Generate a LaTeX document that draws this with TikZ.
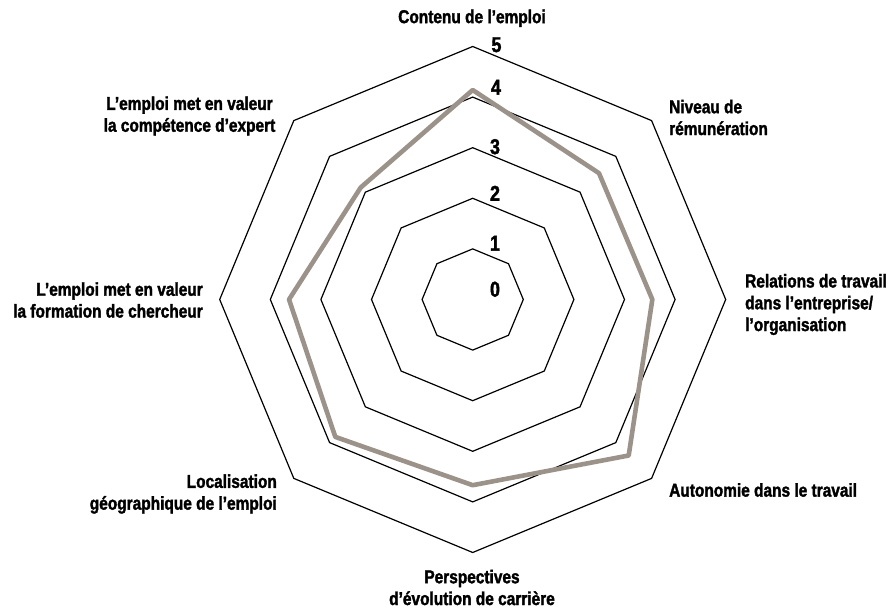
\documentclass[tikz,border=0pt]{standalone}
\usepackage{fontspec}
\usetikzlibrary{calc}
\newfontfamily\labfont{Liberation Sans Bold}[FakeStretch=0.83,FakeBold=1.8]
\begin{document}
\begin{tikzpicture}[x=1pt,y=1pt,
  grid/.style={draw=black,line width=1.2pt,line join=miter},
  series/.style={draw=datagrey,line width=4.6pt,line join=round},
  lab/.style={font=\labfont\fontsize{18.6}{21.8}\selectfont,inner sep=0pt},
  num/.style={font=\labfont\fontsize{21.5}{24}\selectfont,inner sep=0pt}]
\definecolor{datagrey}{RGB}{155,146,138}
\useasboundingbox (0,0) rectangle (892,610);
\coordinate (C) at (472.7,310.5);
\def\stp{50.6}
% grid octagons
\foreach \k in {1,...,5}{
  \draw[grid] ($(C)+(90:\k*\stp)$) -- ($(C)+(45:\k*\stp)$) -- ($(C)+(0:\k*\stp)$) -- ($(C)+(-45:\k*\stp)$) -- ($(C)+(-90:\k*\stp)$) -- ($(C)+(-135:\k*\stp)$) -- ($(C)+(180:\k*\stp)$) -- ($(C)+(135:\k*\stp)$) -- cycle;
}
% data
\draw[series] ($(C)+(90:4.14*\stp)$) -- ($(C)+(45:3.53*\stp)$) -- ($(C)+(0:3.55*\stp)$) -- ($(C)+(-45:4.36*\stp)$) -- ($(C)+(-90:3.67*\stp)$) -- ($(C)+(-135:3.84*\stp)$) -- ($(C)+(180:3.63*\stp)$) -- ($(C)+(135:3.13*\stp)$) -- cycle;
% scale numbers
\node[num] (n5) at (496.5,565.2) {5};
\node[num] (n4) at (496,522.7) {4};
\node[num] (n3) at (495,463.3) {3};
\node[num] (n2) at (495,416.7) {2};
\node[num] (n1) at (495,366.7) {1};
\node[num] (n0) at (495,320.7) {0};
% axis labels
\node[lab] (a1) at (472,591.7) {Contenu de l’emploi};
\node[lab,anchor=west,align=left] (a2) at (669,492.5) {Niveau de\\rémunération};
\node[lab,anchor=west,align=left] (a3) at (745,305.5) {Relations de travail\\dans l’entreprise/\\l’organisation};
\node[lab,anchor=west] (a4) at (669,120) {Autonomie dans le travail};
\node[lab,align=center] (a5) at (472,22.5) {Perspectives\\d’évolution de carrière};
\node[lab,anchor=east,align=right] (a6) at (277,116) {Localisation\\géographique de l’emploi};
\node[lab,anchor=east,align=right] (a7) at (203,310) {L’emploi met en valeur\\la formation de chercheur};
\node[lab,align=center] (a8) at (189.5,494) {L’emploi met en valeur\\la compétence d’expert};
\end{tikzpicture}
\end{document}
